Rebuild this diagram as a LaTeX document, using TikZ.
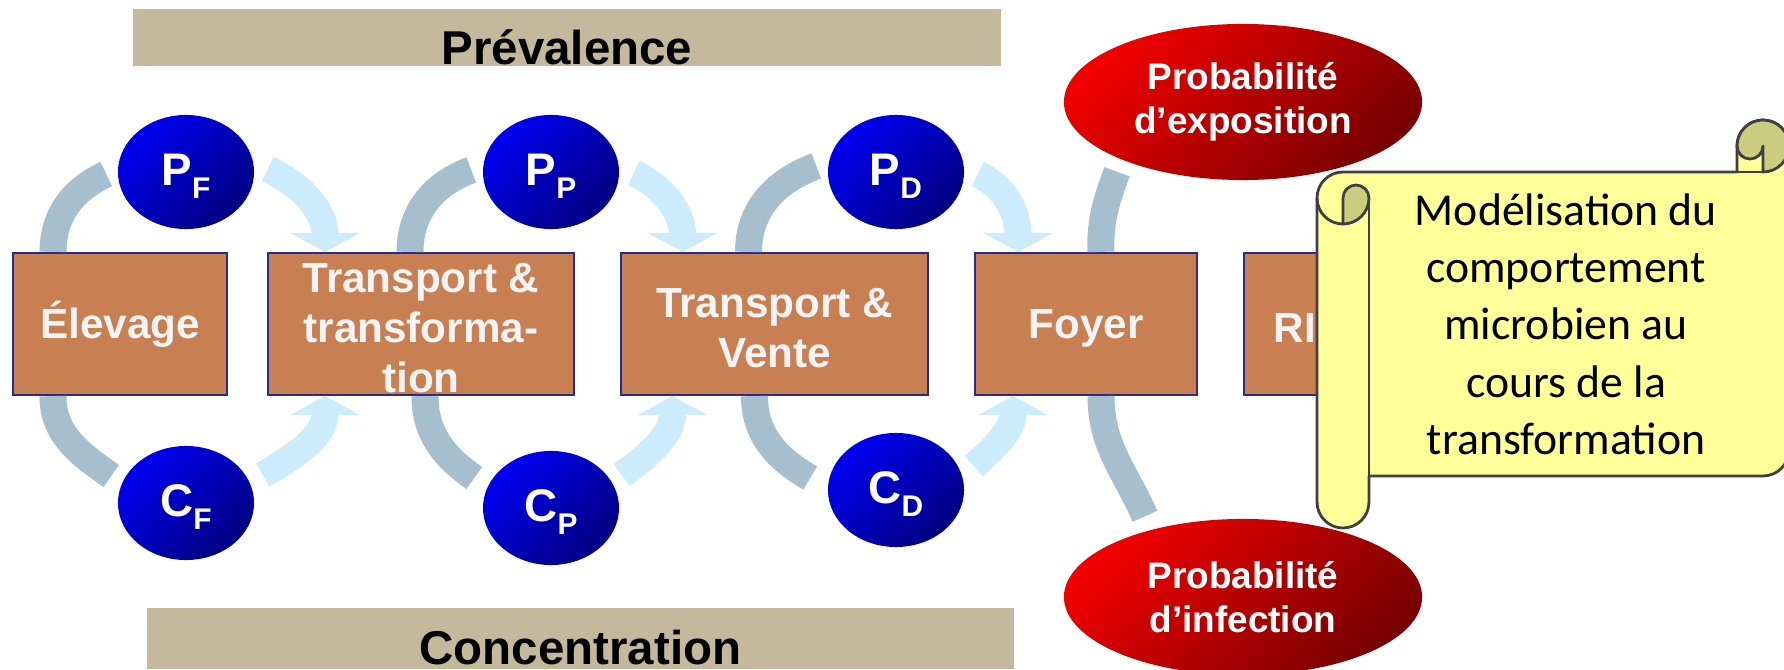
\documentclass[tikz,border=0pt]{standalone}
\usepackage{fontspec}
\setmainfont{Liberation Sans}
\newfontfamily\scrollfont{Carlito}
\usetikzlibrary{arrows.meta, calc, shapes.geometric}

\definecolor{barTan}{HTML}{C4B99D}
\definecolor{stageFill}{HTML}{C87F52}
\definecolor{stageLine}{HTML}{2B2B8C}
\definecolor{stageText}{HTML}{F4F4F4}
\definecolor{blueLight}{HTML}{0000F2}
\definecolor{blueDark}{HTML}{000080}
\definecolor{redLight}{HTML}{F20000}
\definecolor{redDark}{HTML}{780000}
\definecolor{bandGrey}{HTML}{A6BFCE}
\definecolor{flowBlue}{HTML}{CCEBFC}
\definecolor{scrollFill}{HTML}{FFFF99}
\definecolor{scrollCurl}{HTML}{CCCC80}
\definecolor{scrollLine}{HTML}{404040}

\newcommand{\lowidx}[1]{\raisebox{-3.7pt}{\fontsize{8.5}{9}\selectfont #1}}

\begin{document}
\begin{tikzpicture}[x=0.01cm,y=0.01cm,>={Triangle[width=0.69cm,length=0.19cm]},
                    bar node/.style={rectangle,fill=barTan,inner sep=0pt,minimum width=#1,
                      text height=15.93pt,font=\fontsize{13.5}{16}\selectfont\bfseries},
                    stage node/.style={rectangle,draw=stageLine,line width=0.6pt,fill=stageFill,
                      text=stageText,minimum width=#1,minimum height=1.42cm,inner sep=0pt,
                      align=center,font=\fontsize{12}{14.3}\selectfont\bfseries},
                    conc node/.style={ellipse,minimum width=1.36cm,minimum height=1.14cm,inner sep=0pt,
                      top color=blueLight,bottom color=blueDark,shading angle=45,text=white,
                      text height=9.4pt,text depth=2pt,font=\fontsize{13}{15}\selectfont\bfseries},
                    prob node/.style={ellipse,minimum width=3.58cm,minimum height=1.56cm,inner sep=0pt,
                      top color=redLight,bottom color=redDark,shading angle=45,text=white,
                      align=center,font=\fontsize{10.5}{12.5}\selectfont\bfseries},
                    band/.style={color=bandGrey,line width=0.27cm},
                    flow/.style={->,color=flowBlue,line width=0.27cm},
                    scroll part/.style={draw=scrollLine,line width=0.8pt,line join=round}]

  \clip (0,0) rectangle (1784,-670);

  \node[bar node=8.68cm,anchor=base,text depth=0.28pt] (prev) at (567,-65) {Prévalence};
  \node[bar node=8.67cm,anchor=base,text depth=1.42pt] (conc) at (580.5,-664) {Concentration};

  \node[stage node=2.14cm] (elev) at (120,-324) {Élevage};
  \node[stage node=3.06cm] (tt) at (421,-324) {\vphantom{É}Transport \&\\transforma-\\tion};
  \node[stage node=3.07cm] (tv) at (774.5,-324) {\vphantom{É}Transport \&\\Vente};
  \node[stage node=2.22cm] (foyer) at (1086,-324) {\vphantom{É}Foyer};
  \node[stage node=1.02cm] (ri) at (1295,-324) {\vphantom{É}RI};

  \node[conc node] (pf) at (186,-172) {P\lowidx{F}};
  \node[conc node] (pp) at (551,-172) {P\lowidx{P}};
  \node[conc node] (pd) at (896,-172) {P\lowidx{D}};
  \node[conc node] (cf) at (186,-503) {C\lowidx{F}};
  \node[conc node] (cp) at (551,-508) {C\lowidx{P}};
  \node[conc node] (cd) at (896,-490) {C\lowidx{D}};

  \node[prob node] (expo) at (1243,-102) {Probabilité\\d’exposition};
  \node[prob node] (infec) at (1243,-597) {Probabilité\\d’infection};

  \path[band]
    ($(elev.north)+(-67,0)$) edge[out=90,in=205] ($(pf.west)+(-11,-2)$)
    ($(elev.south)+(-67,0)$) edge[out=-90,in=145] ($(cf.west)+(-6,27)$)
    ($(tt.north)+(-11,0)$) edge[out=90,in=200] ($(pp.west)+(-11,2)$)
    ($(tt.south)+(4,0)$) edge[out=-90,in=145] ($(cp.west)+(-8,30)$)
    ($(tv.north)+(-26,0)$) edge[out=90,in=200] ($(pd.west)+(-11,6)$)
    ($(tv.south)+(-20,0)$) edge[out=-90,in=150] ($(cd.west)+(-17,12)$)
    ($(foyer.north)+(15,0)$) edge[out=92,in=250] ($(expo.south)+(-126,9)$)
    ($(foyer.south)+(15,0)$) edge[out=-90,in=114] ($(infec.north)+(-98,2)$);

  \path[flow]
    ($(pf.east)+(13,3)$) edge[out=-25,in=90] ($(tt.north)+(-96,0)$)
    ($(cf.east)+(8,28)$) edge[out=30,in=-90] ($(tt.south)+(-96,0)$)
    ($(pp.east)+(14,-1)$) edge[out=-25,in=90] ($(tv.north)+(-92,0)$)
    ($(cp.east)+(2,33)$) edge[out=35,in=-90] ($(tv.south)+(-102,0)$)
    ($(pd.east)+(13,-2)$) edge[out=-25,in=90] ($(foyer.north)+(-68,0)$)
    ($(cd.east)+(9,24)$) edge[out=40,in=-90] ($(foyer.south)+(-73,0)$);

  \path[scroll part,fill=scrollFill]
    (1317,-198) arc[start angle=180,end angle=90,radius=26] -- (1737,-172) -- (1737,-146)
    arc[start angle=180,end angle=0,radius=26] -- (1789,-450)
    arc[start angle=0,end angle=-90,radius=26] -- (1369,-476) -- (1369,-502)
    arc[start angle=0,end angle=-180,radius=26] -- cycle;
  \path[scroll part,fill=scrollCurl]
    (1343,-198) arc[start angle=180,end angle=0,radius=13]
    arc[start angle=0,end angle=-90,radius=26] -- cycle;
  \path[scroll part,fill=scrollCurl]
    (1737,-146) arc[start angle=180,end angle=-90,radius=26] -- (1763,-146)
    arc[start angle=0,end angle=-180,radius=13] -- cycle;
  \draw[scroll part] (1317,-198) arc[start angle=180,end angle=270,radius=26];
  \draw[scroll part] (1369,-198) -- (1369,-476);
  \draw[scroll part] (1737,-172) -- (1763,-172);

  \node[font=\scrollfont\fontsize{13}{16.3}\selectfont,align=center,inner sep=0pt] (modl)
    at (1566,-324) {Modélisation du\\comportement\\microbien au\\cours de la\\transformation};

\end{tikzpicture}
\end{document}
